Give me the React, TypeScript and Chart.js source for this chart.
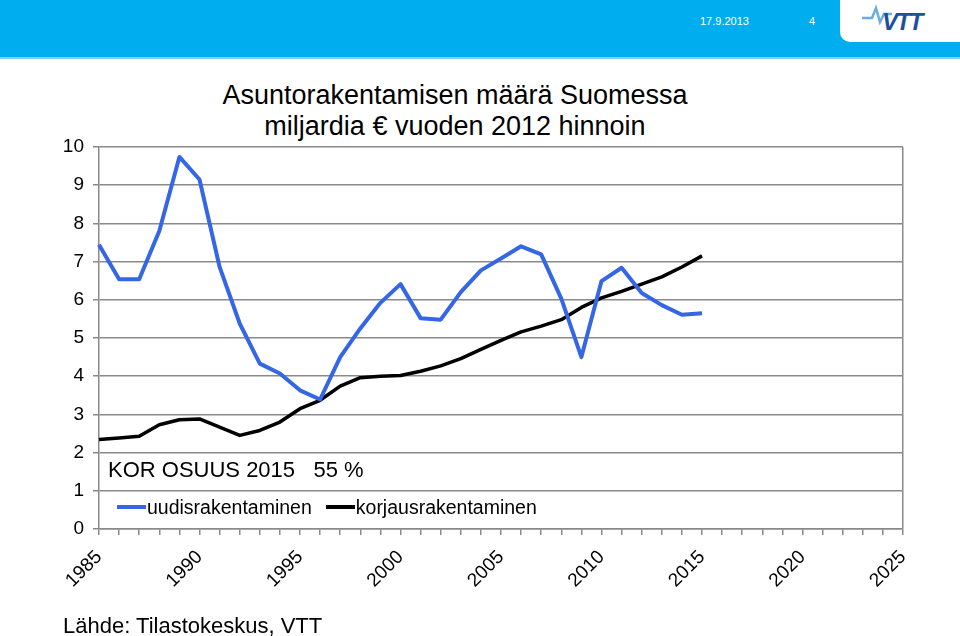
import React, { useEffect, useRef } from "react";
import { Chart, registerables } from "chart.js";

Chart.register(...registerables);

const years = [
  "1985", "1986", "1987", "1988", "1989", "1990", "1991", "1992", "1993", "1994",
  "1995", "1996", "1997", "1998", "1999", "2000", "2001", "2002", "2003", "2004",
  "2005", "2006", "2007", "2008", "2009", "2010", "2011", "2012", "2013", "2014",
  "2015", "2016", "2017", "2018", "2019", "2020", "2021", "2022", "2023", "2024",
  "2025",
];

const uudisrakentaminen = [
  7.44, 6.54, 6.54, 7.8, 9.74, 9.15, 6.86, 5.38, 4.33, 4.07,
  3.63, 3.39, 4.5, 5.25, 5.92, 6.41, 5.52, 5.48, 6.2, 6.77,
  7.08, 7.4, 7.19, 6.03, 4.5, 6.49, 6.84, 6.18, 5.86, 5.61,
  5.65,
];

const korjausrakentaminen = [
  2.34, 2.38, 2.43, 2.73, 2.86, 2.88, 2.67, 2.45, 2.58, 2.8,
  3.15, 3.37, 3.74, 3.96, 4.0, 4.02, 4.13, 4.27, 4.46, 4.7,
  4.94, 5.16, 5.31, 5.48, 5.8, 6.05, 6.22, 6.41, 6.6, 6.86,
  7.15,
];

const seriesNames = ["uudisrakentaminen", "korjausrakentaminen"];
const titleLines = ["Asuntorakentamisen määrä Suomessa", "miljardia € vuoden 2012 hinnoin"];
const noteText = "KOR OSUUS 2015   55 %";
const sourceText = "Lähde: Tilastokeskus, VTT";

const BLUE = "#3566E6";
const GRID = "#8a8a8a";
const FONT = "'Liberation Sans', Arial, sans-serif";

export default function App() {
  const ref = useRef<HTMLCanvasElement | null>(null);

  useEffect(() => {
    if (!ref.current) return;
    const chart = new Chart(ref.current, {
      type: "line",
      data: {
        labels: years,
        datasets: [
          {
            label: seriesNames[0],
            data: uudisrakentaminen,
            borderColor: BLUE,
            backgroundColor: BLUE,
            borderWidth: 4,
            pointRadius: 0,
            tension: 0,
            borderJoinStyle: "round",
          },
          {
            label: seriesNames[1],
            data: korjausrakentaminen,
            borderColor: "#000000",
            backgroundColor: "#000000",
            borderWidth: 3.5,
            pointRadius: 0,
            tension: 0,
            borderJoinStyle: "round",
          },
        ],
      },
      options: {
        responsive: false,
        animation: false,
        layout: { padding: { left: 0, right: 57, top: 147, bottom: 0 } },
        plugins: {
          legend: { display: false },
          tooltip: { enabled: false },
          title: { display: false },
        },
        scales: {
          x: {
            type: "category",
            offset: false,
            grid: {
              offset: false,
              drawOnChartArea: true,
              color: (ctx: any) => (ctx.index === years.length - 1 ? GRID : "rgba(0,0,0,0)"),
              tickColor: GRID,
              tickLength: 6,
              lineWidth: 1.5,
            },
            border: { color: GRID, width: 1.5 },
            ticks: {
              autoSkip: false,
              maxRotation: 45,
              minRotation: 45,
              padding: 11,
              color: "#000",
              font: { family: FONT, size: 19 },
              callback: (_v: any, i: number) => (Number(years[i]) % 5 === 0 ? years[i] : ""),
            },
            afterFit: (scale: any) => {
              scale.height = 107;
            },
          },
          y: {
            min: 0,
            max: 10,
            grid: { color: GRID, tickColor: GRID, tickLength: 6, lineWidth: 1.5 },
            border: { color: GRID, width: 1.5 },
            ticks: {
              stepSize: 1,
              padding: 9,
              color: "#000",
              font: { family: FONT, size: 19 },
            },
            afterFit: (scale: any) => {
              scale.width = 99;
            },
          },
        },
      },
    });
    return () => chart.destroy();
  }, []);

  const legendItem = (color: string, width: number, text: string, mr: number) => (
    <div style={{ display: "flex", alignItems: "center", marginRight: mr }}>
      <div style={{ width: 29, height: width, background: color, marginRight: 1 }} />
      <span>{text}</span>
    </div>
  );

  return (
    <div
      style={{
        position: "fixed",
        left: 0,
        top: 0,
        width: 960,
        height: 636,
        background: "#fff",
        overflow: "hidden",
        fontFamily: FONT,
      }}
    >
      {/* banner */}
      <div
        style={{
          position: "absolute",
          left: 0,
          top: 0,
          width: 960,
          height: 57,
          background: "#00AEEF",
          borderBottom: "2px solid #7fd2f3",
        }}
      />
      <div style={{ position: "absolute", left: 700, top: 15, color: "#fff", fontSize: 11 }}>17.9.2013</div>
      <div style={{ position: "absolute", left: 809, top: 15, color: "#fff", fontSize: 11 }}>4</div>
      <div
        style={{
          position: "absolute",
          left: 840,
          top: 0,
          width: 120,
          height: 42,
          background: "#fff",
          borderBottomLeftRadius: 10,
        }}
      >
        <svg width={120} height={42} style={{ position: "absolute", left: 0, top: 0 }}>
          <polyline
            points="22,18 32,18 36,8 40,22 44,14 52,14"
            fill="none"
            stroke="#6aaee0"
            strokeWidth={2.5}
          />
        </svg>
        <div
          style={{
            position: "absolute",
            left: 42,
            top: 9,
            color: "#1d4f9e",
            fontSize: 24,
            fontWeight: 900,
            fontStyle: "italic",
            letterSpacing: -2,
            lineHeight: "26px",
          }}
        >
          VTT
        </div>
      </div>

      {/* title */}
      <div
        style={{
          position: "absolute",
          left: 155,
          width: 600,
          top: 80,
          textAlign: "center",
          fontSize: 27,
          lineHeight: "31px",
          color: "#000",
        }}
      >
        <div>{titleLines[0]}</div>
        <div>{titleLines[1]}</div>
      </div>

      <canvas ref={ref} width={960} height={636} style={{ position: "absolute", left: 0, top: 0, width: 960, height: 636 }} />

      {/* note + legend */}
      <div style={{ position: "absolute", left: 108, top: 457, fontSize: 22, color: "#000", whiteSpace: "pre" }}>
        {noteText}
      </div>
      <div
        style={{
          position: "absolute",
          left: 117,
          top: 496,
          fontSize: 19.5,
          color: "#000",
          display: "flex",
          alignItems: "center",
          lineHeight: "22px",
        }}
      >
        {legendItem(BLUE, 4, seriesNames[0], 14)}
        {legendItem("#000", 4, seriesNames[1], 0)}
      </div>

      {/* source */}
      <div style={{ position: "absolute", left: 63, top: 613, fontSize: 22, color: "#000" }}>{sourceText}</div>
    </div>
  );
}
